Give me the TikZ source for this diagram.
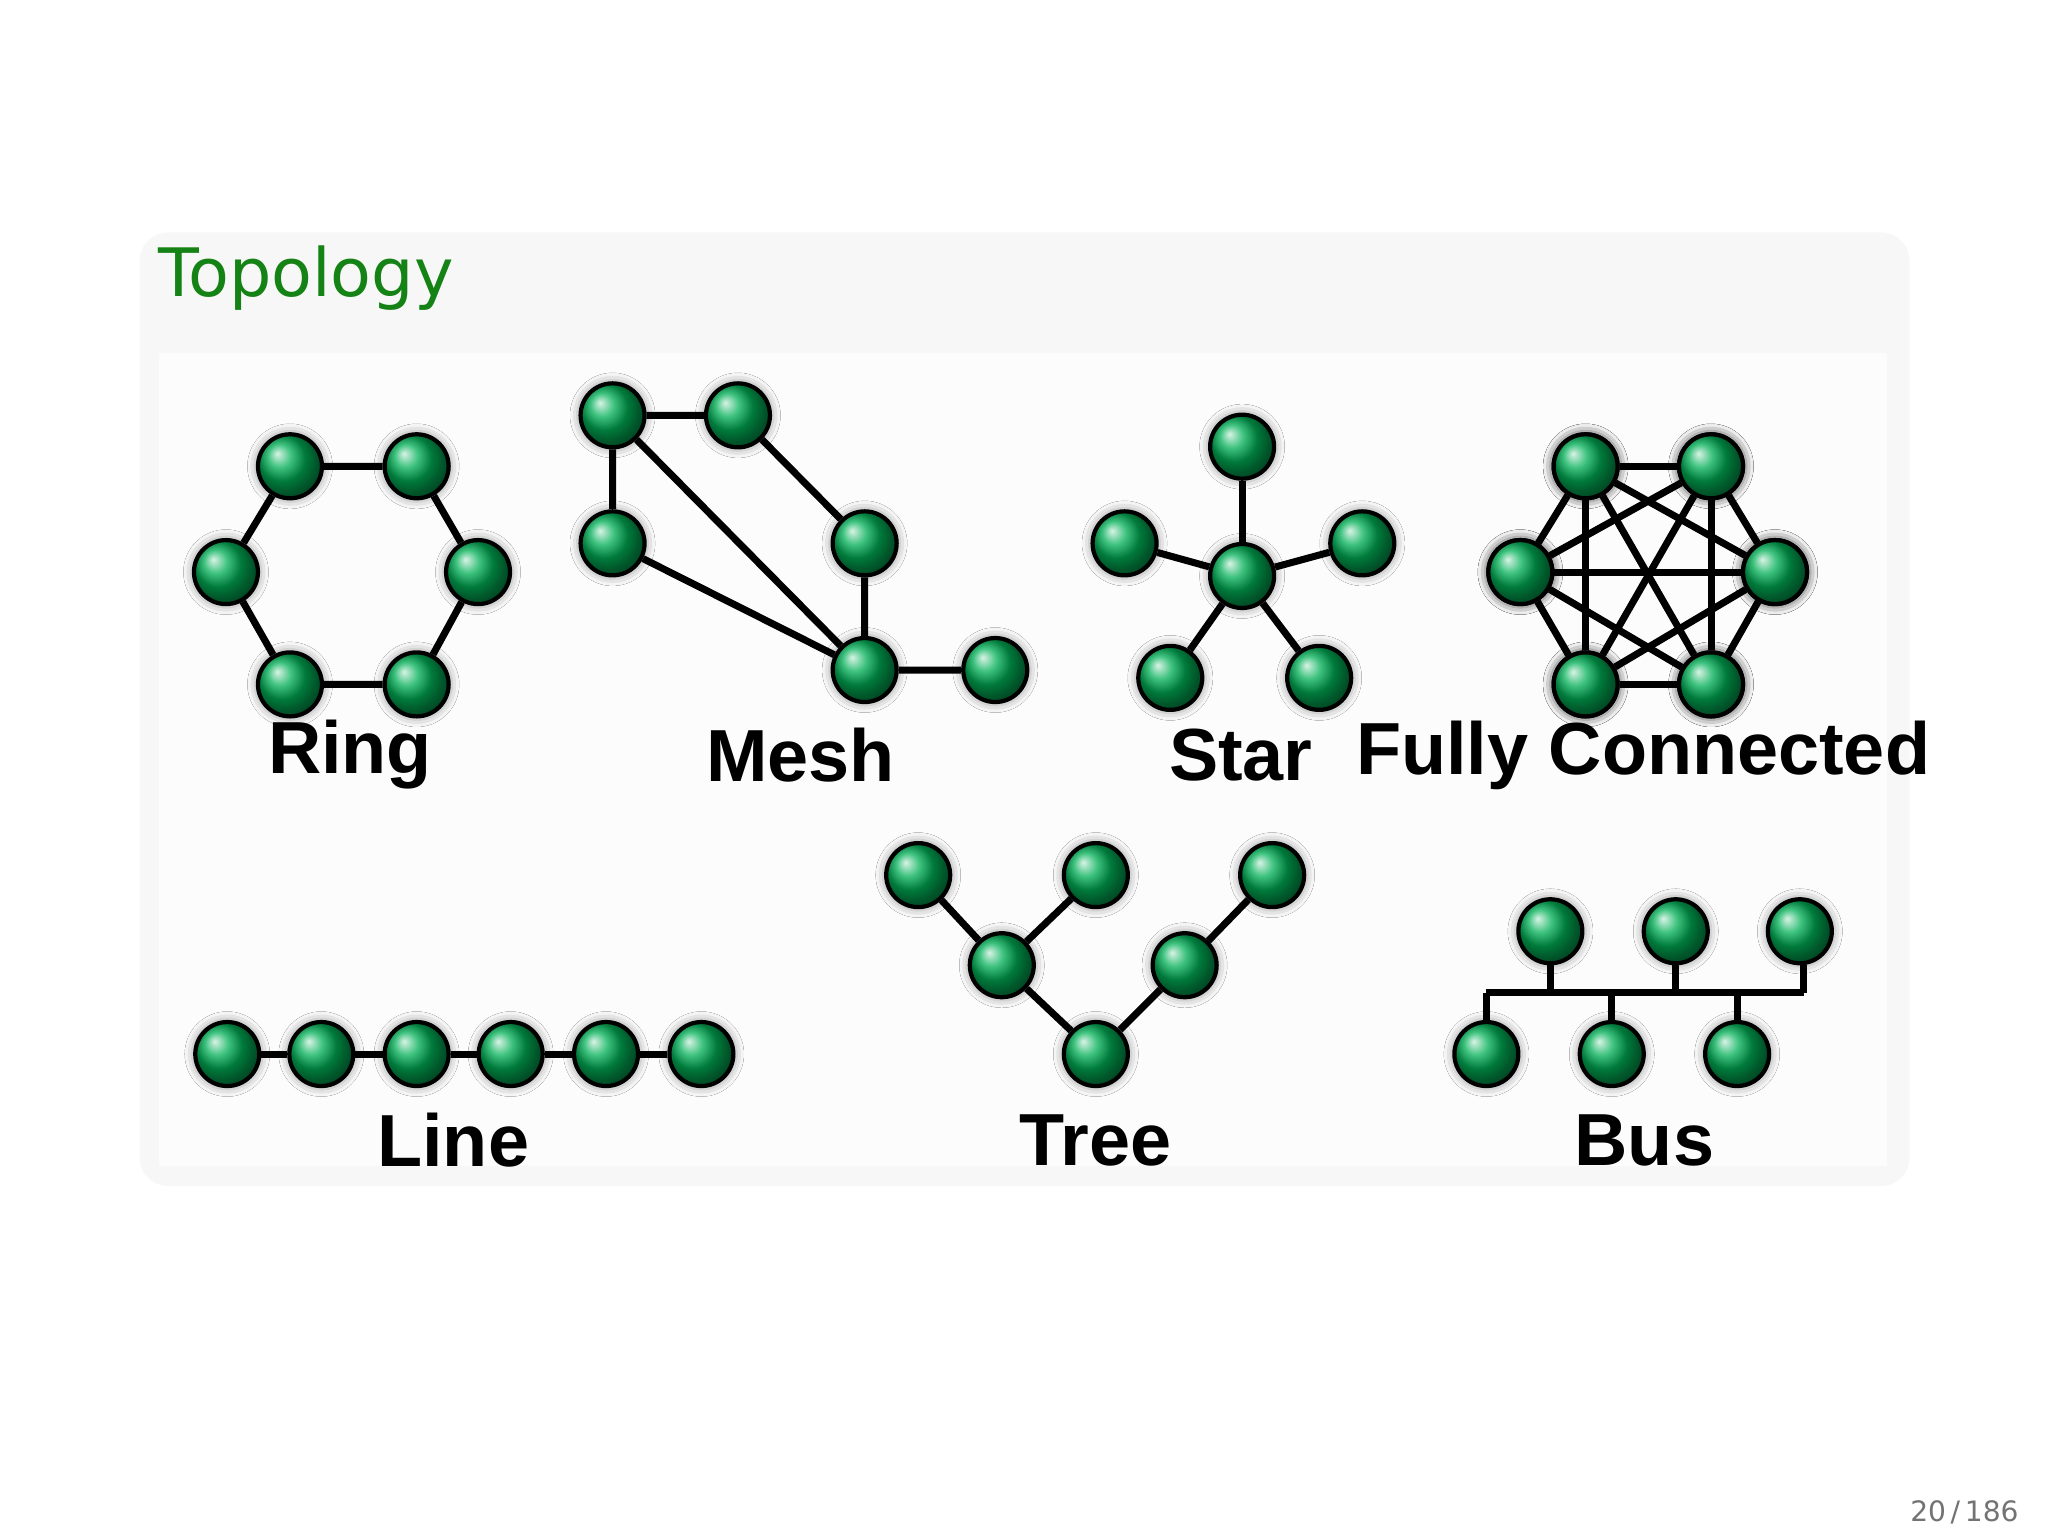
\documentclass[tikz,border=0pt]{standalone}
\usepackage{fontspec}
\setmainfont{DejaVu Sans}
\newfontfamily\labfont{Liberation Sans}
\usetikzlibrary{shadows.blur}
\definecolor{titlegreen}{RGB}{20,130,20}
\definecolor{ballgreen}{RGB}{0,175,85}
\begin{document}
\begin{tikzpicture}[x=0.01306cm,y=-0.01306cm,
  nd/.style={circle,draw=black,line width=1.2pt,minimum size=0.64cm,inner sep=0pt,
    ball color=ballgreen,blur shadow={shadow xshift=0pt,shadow yshift=0pt,shadow blur radius=3pt,shadow opacity=50}},
  ln/.style={line width=2pt,black},
  lab/.style={font=\labfont\bfseries\fontsize{21}{25}\selectfont,inner sep=0pt}]
\useasboundingbox (0,0) rectangle (1568,1176);
\fill[white] (0,0) rectangle (1568,1176);
\fill[black!3,rounded corners=8pt] (107,178) rectangle (1462,908);
\fill[black!1] (122,270) rectangle (1445,893);
\node[anchor=west,text=titlegreen,font=\fontsize{19}{23}\selectfont,inner sep=0pt] (title) at (121,213) {Topology};
\node[text=black!55,font=\fontsize{8}{10}\selectfont,anchor=east,inner sep=0pt] (pg) at (1546,1158) {20\,/\,186};
% Ring
\foreach \n/\x/\y in {r1/222/357,r2/319/357,r3/366/438,r4/319/524,r5/222/524,r6/173/438} \node[nd] (\n) at (\x,\y) {};
\draw[ln] (r1)--(r2) (r2)--(r3) (r3)--(r4) (r4)--(r5) (r5)--(r6) (r6)--(r1);
\node[lab] (lring) at (268,578) {Ring};
% Mesh
\foreach \n/\x/\y in {ma/469/318,mb/565/318,mc/469/416,md/662/416,me/662/513,mf/762/513} \node[nd] (\n) at (\x,\y) {};
\draw[ln] (ma)--(mb) (ma)--(mc) (ma)--(me) (mb)--(md) (md)--(me) (mc)--(me) (me)--(mf);
\node[lab] (lmesh) at (613,578) {Mesh};
% Star
\foreach \n/\x/\y in {s0/951/441,s1/951/342,s2/861/416,s3/1043/416,s4/896/519,s5/1010/519} \node[nd] (\n) at (\x,\y) {};
\foreach \n in {s1,s2,s3,s4,s5} \draw[ln] (s0)--(\n);
\node[lab] (lstar) at (950,578) {Star};
% Fully connected
\foreach \n/\x/\y in {f1/1214/357,f2/1310/357,f3/1359/438,f4/1310/524,f5/1214/524,f6/1164/438} \node[nd] (\n) at (\x,\y) {};
\foreach \a/\b in {f1/f2,f1/f3,f1/f4,f1/f5,f1/f6,f2/f3,f2/f4,f2/f5,f2/f6,f3/f4,f3/f5,f3/f6,f4/f5,f4/f6,f5/f6} \draw[ln] (\a)--(\b);
\foreach \n/\x/\y in {f1/1214/357,f2/1310/357,f3/1359/438,f4/1310/524,f5/1214/524,f6/1164/438} \node[nd] at (\x,\y) {};
\node[lab] (lfull) at (1258,578) {Fully Connected};
% Line
\foreach \n/\x in {l1/174,l2/246,l3/319,l4/391,l5/464,l6/537} \node[nd] (\n) at (\x,807) {};
\draw[ln] (l1)--(l2) (l2)--(l3) (l3)--(l4) (l4)--(l5) (l5)--(l6);
\node[lab] (lline) at (347,873) {Line};
% Tree
\foreach \n/\x/\y in {t1/703/670,t2/839/670,t3/974/670,t4/767/739,t5/907/739,t6/839/807} \node[nd] (\n) at (\x,\y) {};
\draw[ln] (t1)--(t4) (t2)--(t4) (t4)--(t6) (t5)--(t6) (t3)--(t5);
\node[lab] (ltree) at (839,873) {Tree};
% Bus
\foreach \n/\x/\y in {b1/1187/713,b2/1283/713,b3/1378/713,b4/1138/807,b5/1234/807,b6/1330/807} \node[nd] (\n) at (\x,\y) {};
\coordinate (bl) at (1138,760); \coordinate (br) at (1381,760);
\draw[ln] (bl)--(br);
\foreach \n in {b1,b2,b4,b5,b6} \draw[ln] (\n) -- (\n |- bl);
\draw[ln] (b3.south -| br) -- (br);
\node[lab] (lbus) at (1259,873) {Bus};
\end{tikzpicture}
\end{document}
